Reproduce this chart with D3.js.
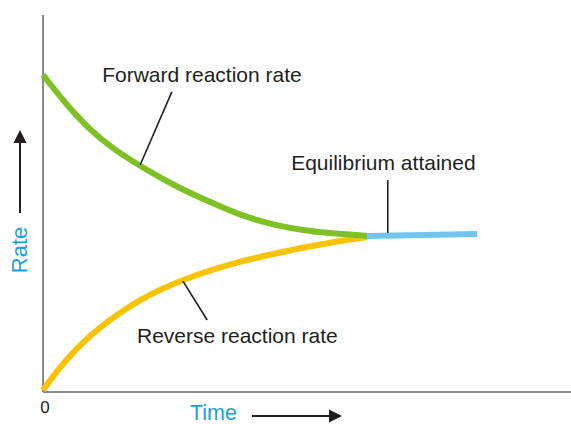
<!DOCTYPE html>
<html>
<head>
<meta charset="utf-8">
<script src="https://cdn.jsdelivr.net/npm/d3@7"></script>
<style>
  html, body { margin: 0; padding: 0; background: #fff; }
  svg { display: block; font-family: "Liberation Sans", Arial, sans-serif; }
</style>
</head>
<body>
<div id="chart"></div>
<script>
// readings, time in arbitrary units (0..10), rate 0..100
const forwardTime = [0, 0.45, 0.89, 1.31, 1.84, 2.46, 3.11, 3.73, 4.36, 5.0, 5.63, 6.14];
const forwardRate = [84.1, 76.1, 69.5, 64.7, 59.9, 54.9, 50.7, 46.9, 44.3, 42.7, 41.9, 41.4];

const reverseTime = [0, 0.28, 0.57, 0.89, 1.21, 1.84, 2.65, 3.73, 4.36, 5.0, 5.63, 6.14];
const reverseRate = [0.5, 5.8, 10.6, 14.9, 18.6, 24.7, 30.0, 34.7, 36.6, 38.5, 40.1, 41.1];

const equilibriumTime = [6.14, 8.22];
const equilibriumRate = [41.4, 41.9];

const labels = ["Forward reaction rate", "Reverse reaction rate", "Equilibrium attained"];

const width = 571;
const height = 424;

const x = d3.scaleLinear().domain([0, 10]).range([43, 571]);
const y = d3.scaleLinear().domain([0, 100]).range([392, 15]);

const svg = d3.select("#chart").append("svg")
  .attr("width", width)
  .attr("height", height)
  .attr("viewBox", [0, 0, width, height]);

// axes
svg.append("line")
  .attr("x1", x(0)).attr("x2", x(0))
  .attr("y1", y(0)).attr("y2", y(100))
  .attr("stroke", "#8a8a8a").attr("stroke-width", 2);
svg.append("line")
  .attr("x1", x(0)).attr("x2", x(10))
  .attr("y1", y(0)).attr("y2", y(0))
  .attr("stroke", "#8a8a8a").attr("stroke-width", 2);

const line = d3.line()
  .x(d => x(d[0]))
  .y(d => y(d[1]))
  .curve(d3.curveBasis);

const zip = (a, b) => a.map((v, i) => [v, b[i]]);

svg.append("path")
  .datum(zip(reverseTime, reverseRate))
  .attr("d", line)
  .attr("fill", "none")
  .attr("stroke", "#f8c300")
  .attr("stroke-width", 6);

svg.append("path")
  .datum(zip(forwardTime, forwardRate))
  .attr("d", line)
  .attr("fill", "none")
  .attr("stroke", "#7fc124")
  .attr("stroke-width", 6);

svg.append("path")
  .datum(zip(equilibriumTime, equilibriumRate))
  .attr("d", line)
  .attr("fill", "none")
  .attr("stroke", "#72c5ef")
  .attr("stroke-width", 6);

// leader lines
const leaders = [
  [[1.84, 60.2], [2.44, 79.6]],
  [[2.65, 29.4], [3.11, 19.1]],
  [[6.53, 42.2], [6.53, 56.2]]
];
svg.append("g")
  .selectAll("line")
  .data(leaders)
  .join("line")
  .attr("x1", d => x(d[0][0])).attr("y1", d => y(d[0][1]))
  .attr("x2", d => x(d[1][0])).attr("y2", d => y(d[1][1]))
  .attr("stroke", "#231f20")
  .attr("stroke-width", 1.6);

const labelPos = [[1.12, 82.2], [1.78, 13], [4.7, 58.9]];
svg.append("g")
  .selectAll("text")
  .data(labels)
  .join("text")
  .attr("x", (d, i) => x(labelPos[i][0]))
  .attr("y", (d, i) => y(labelPos[i][1]))
  .attr("fill", "#231f20")
  .attr("font-size", 21)
  .text(d => d);

// "0" at origin
svg.append("text")
  .attr("x", x(0) + 2)
  .attr("y", 413)
  .attr("text-anchor", "middle")
  .attr("font-size", 17)
  .attr("fill", "#231f20")
  .text("0");

// axis titles
svg.append("text")
  .attr("x", 190)
  .attr("y", 420)
  .attr("font-size", 21.5)
  .attr("fill", "#1b9fe0")
  .text("Time");

svg.append("text")
  .attr("transform", "translate(27,250) rotate(-90)")
  .attr("text-anchor", "middle")
  .attr("font-size", 22)
  .attr("fill", "#1b9fe0")
  .text("Rate");

// arrows
svg.append("line")
  .attr("x1", 252).attr("x2", 331)
  .attr("y1", 416).attr("y2", 416)
  .attr("stroke", "#231f20").attr("stroke-width", 2);
svg.append("path")
  .attr("d", "M342,416 L329,409.5 L329,422.5 Z")
  .attr("fill", "#231f20");

svg.append("line")
  .attr("x1", 20).attr("x2", 20)
  .attr("y1", 213).attr("y2", 141)
  .attr("stroke", "#231f20").attr("stroke-width", 2);
svg.append("path")
  .attr("d", "M20,130 L13.5,143 L26.5,143 Z")
  .attr("fill", "#231f20");
</script>
</body>
</html>
